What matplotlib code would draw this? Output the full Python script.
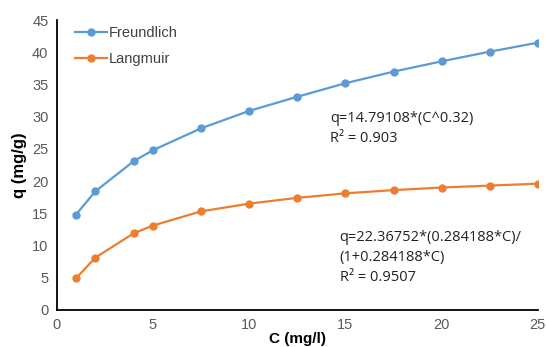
import numpy as np
import matplotlib.pyplot as plt

plt.rcParams['font.family'] = ['Liberation Sans', 'DejaVu Sans']

C = [1, 2, 4, 5, 7.5, 10, 12.5, 15, 17.5, 20, 22.5, 25]
q_freundlich = [14.8, 18.4, 23.1, 24.8, 28.2, 30.9, 33.1, 35.2, 37.0, 38.6, 40.1, 41.5]
q_langmuir = [4.9, 8.1, 11.9, 13.1, 15.3, 16.5, 17.4, 18.1, 18.6, 19.0, 19.3, 19.6]

fig = plt.figure(figsize=(5.46, 3.47), dpi=100)
ax = fig.add_axes([0.104, 0.107, 0.881, 0.835])

ax.plot(C, q_freundlich, '-o', color='#5B9BD5', lw=1.6, ms=5, label='Freundlich')
ax.plot(C, q_langmuir, '-o', color='#ED7D31', lw=1.6, ms=5, label='Langmuir')

ax.set_xlim(0, 25)
ax.set_ylim(0, 45)
ax.set_xticks(range(0, 26, 5))
ax.set_yticks(range(0, 46, 5))
ax.tick_params(length=0, labelsize=10.5, colors='#595959', pad=6)
for s in ['top', 'right']:
    ax.spines[s].set_visible(False)
for s in ['left', 'bottom']:
    ax.spines[s].set_color('black')
    ax.spines[s].set_linewidth(1.3)

ax.set_xlabel("C (mg/l)", fontweight='bold', fontsize=11, labelpad=0)
ax.set_ylabel("q (mg/g)", fontweight='bold', fontsize=12, labelpad=4)

ax.text(14.2, 30.9, "q=14.79108*(C^0.32)\nR² = 0.903", fontsize=10.5,
        family=['Open Sans', 'DejaVu Sans'], va='top', linespacing=1.45, color='#222222')
ax.text(14.7, 12.4, "q=22.36752*(0.284188*C)/\n(1+0.284188*C)\nR² = 0.9507", fontsize=10.5,
        family=['Open Sans', 'DejaVu Sans'], va='top', linespacing=1.45, color='#222222')

leg = ax.legend(loc='upper left', frameon=False, fontsize=10.5, handlelength=2.2,
                handletextpad=0.1, bbox_to_anchor=(0.01, 1.025), labelspacing=0.8)
for t in leg.get_texts():
    t.set_color('#404040')

fig.savefig('out.png', dpi=100)
